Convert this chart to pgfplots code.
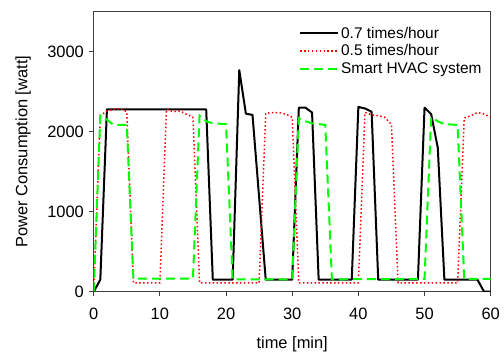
\documentclass[border=0pt]{standalone}
\usepackage{fontspec}
\setmainfont{Liberation Sans}
\usepackage{pgfplots}
\pgfplotsset{compat=1.18}
\usetikzlibrary{calc}
\begin{document}
\begin{tikzpicture}[font=\fontsize{15.5}{18}\selectfont]
\begin{axis}[
  width=397bp, height=280bp, scale only axis,
  xmin=0, xmax=60, ymin=0, ymax=3500,
  xtick={0,10,...,60}, ytick={0,1000,2000,3000},
  tick align=outside, major tick length=4.3bp,
  xtick pos=bottom, ytick pos=left,
  axis line style={black!75, line width=0.8bp},
  tick style={black!75, line width=0.8bp},
  /pgf/number format/assume math mode=true,
  /pgf/number format/1000 sep={},
  tick label style={font=\fontsize{16.5}{19}\selectfont},
  xticklabel style={yshift=-8bp},
  yticklabel style={xshift=-2bp},
  label style={font=\fontsize{16.5}{19}\selectfont},
  xlabel={time [min]}, ylabel={Power Consumption [watt]},
  xlabel style={at={(axis description cs:0.5,0)}, anchor=center, yshift=-53bp},
  ylabel style={at={(axis description cs:-0.178,0.5)}, anchor=center},
  legend style={draw=none, fill=none, at={(0.99,0.96)}, anchor=north east,
    font=\fontsize{15.5}{18}\selectfont, row sep=1bp},
  legend cell align=left,
  legend image code/.code={\draw[#1] (0bp,0bp) -- (38bp,0bp);},
  clip=true,
]
\addplot[black, line width=2bp, line join=round] coordinates {
(0,0) (1,150) (2,2280) (17,2280) (18,150) (21,150) (22,2770) (23,2225) (24,2210)
(26,150) (30,150) (31,2300) (32,2300) (33,2240) (34,150) (39,150) (40,2310)
(41,2290) (42,2250) (43,150) (49,150) (50,2300) (51,2220) (52,1800) (53,150)
(58,150) (59,0) (60,0)};
\addlegendentry{0.7 times/hour}
\addplot[red, line width=1.5bp, dash pattern=on 1.5bp off 2.4bp] coordinates {
(0,0) (1,2200) (2,2260) (3,2280) (4,2290) (5,2250) (6,110) (10,110) (11,2280)
(12,2250) (13,2260) (14,2220) (15,2180) (16,110) (25,110) (26,2230) (27,2240)
(28,2240) (29,2220) (30,2180) (31,110) (40,110) (41,2240) (42,2210) (43,2200)
(44,2180) (45,2090) (46,110) (55,110) (56,2170) (57,2200) (58,2240) (59,2220) (60,2180)};
\addlegendentry{0.5 times/hour}
\addplot[green, line width=2bp, dash pattern=on 9bp off 5bp] coordinates {
(0,0) (1,2200) (2,2150) (3,2085) (5,2085) (6,165) (15,165) (16,2200) (17,2130)
(18,2105) (20,2095) (21,155) (30,155) (31,2170) (32,2130) (33,2105) (35,2085)
(36,155) (50,160) (51,2180) (52,2130) (53,2095) (55,2085) (56,160) (60,160)};
\addlegendentry{Smart HVAC system}
\end{axis}
\pgfresetboundingbox
\path ($(current axis.south west)+(-93.7bp,-62.3bp)$) rectangle ($(current axis.north east)+(13.3bp,11.7bp)$);
\end{tikzpicture}
\end{document}
